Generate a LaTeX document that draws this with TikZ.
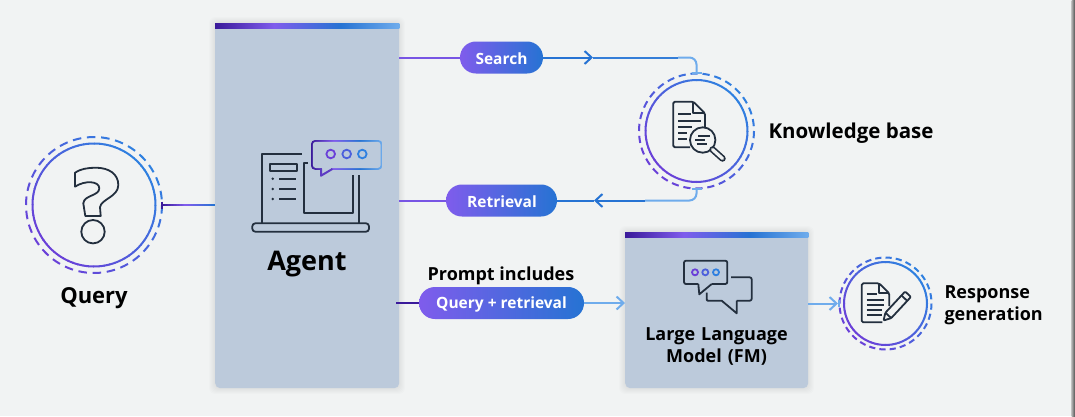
\documentclass[tikz,border=0pt]{standalone}
\usepackage{fontspec}
\setmainfont{Open Sans}
\usetikzlibrary{arrows.meta,calc,positioning}

\definecolor{bgGrey}{HTML}{F1F3F3}
\definecolor{panelBlue}{HTML}{BCCADB}
\definecolor{inkDark}{HTML}{232F3E}
\definecolor{deepPurple}{HTML}{3A1A9A}
\definecolor{midPurple}{HTML}{7F5CEC}
\definecolor{ringPurple}{HTML}{6A40D8}
\definecolor{ringBlue}{HTML}{2F80E0}
\definecolor{midBlue}{HTML}{2673D3}
\definecolor{paleBlue}{HTML}{6FACEC}

\pgfdeclarehorizontalshading{topbar}{100bp}{color(0bp)=(deepPurple); color(25bp)=(deepPurple); color(41bp)=(midPurple); color(59bp)=(midBlue); color(75bp)=(paleBlue); color(100bp)=(paleBlue)}

\tikzset{
	panel/.style={rectangle,fill=panelBlue,rounded corners=5,anchor=north west,inner sep=0},
	pill/.style={rectangle,rounded corners=15.9,left color=midPurple,right color=midBlue,text=white,minimum height=32,inner sep=0},
	ringspot/.style={circle,inner sep=0},
	toplabel/.style={font=\bfseries\fontsize{#1}{#1}\selectfont,text=black,align=center},
	icon/.style={draw=inkDark,line width=1.8,line join=round,fill=none},
	wire/.style={line width=2},
	ringline/.style={line width=2}
}

% connector whose colour runs from one end to the other
\newcommand{\fadeline}[4]{%
	\foreach \i in {0,...,15}{
		\pgfmathsetmacro{\ta}{\i/16}
		\pgfmathsetmacro{\tb}{(\i+1.1)/16}
		\pgfmathsetmacro{\mixv}{100*\i/15}
		\draw[wire,draw=#4!\mixv!#3] ($(#1)!\ta!(#2)$) -- ($(#1)!\tb!(#2)$);
	}
}

% solid ring with a dashed ring round it, node name / radius / radius / dashes
\newcommand{\gradring}[4]{%
	\foreach \a in {0,5,...,355}{
		\pgfmathsetmacro{\mixv}{50+50*cos(\a+45)}
		\draw[ringline,draw=ringBlue!\mixv!ringPurple] ([shift={(\a:#2)}]#1.center) arc[start angle=\a,end angle=\a+5.6,radius=#2];
	}
	\pgfmathsetmacro{\ringgap}{360/#4}
	\foreach \n in {1,...,#4}{
		\pgfmathsetmacro{\a}{\n*\ringgap}
		\pgfmathsetmacro{\e}{\a+0.6*\ringgap}
		\pgfmathsetmacro{\mixv}{50+50*cos(\a+45)}
		\draw[ringline,draw=ringBlue!\mixv!ringPurple] ([shift={(\a:#3)}]#1.center) arc[start angle=\a,end angle=\e,radius=#3];
	}
}

\begin{document}
\begin{tikzpicture}[x=1pt,y=-1pt,>={Straight Barb[length=7pt,width=13pt,line width=2pt]}]
	\useasboundingbox (0,0) rectangle (1075,416);
	\fill[bgGrey] (0,0) rectangle (1075,416);
	\shade[left color=gray!60,right color=black!70] (1071.5,0) rectangle (1075,416);

	% soft edge under the two panels
	\foreach \s in {1,2,...,6}{
		\fill[black,opacity=0.012,rounded corners=6] (215-\s,23-\s) rectangle (399+\s,388+\s);
		\fill[black,opacity=0.012,rounded corners=6] (625-\s,232-\s) rectangle (808+\s,388+\s);
	}

	\node[panel,minimum width=184,minimum height=365] (agent) at (215,23) {};
	\node[panel,minimum width=183,minimum height=156] (llm)   at (625,232) {};
	\shade[shading=topbar] (agent.north west) rectangle ($(agent.north east)+(0,5)$);
	\shade[shading=topbar] (llm.north west) rectangle ($(llm.north east)+(0,5)$);

	\node[ringspot,minimum size=136] (query)    at (94,205)      {};
	\node[ringspot,minimum size=115] (kb)       at (696.5,131)   {};
	\node[ringspot,minimum size=92]  (response) at (885.5,303.5) {};
	\gradring{query}{61.5}{68}{30}
	\gradring{kb}{51}{57.5}{30}
	\gradring{response}{41.5}{46}{28}

	\node[pill,minimum width=83]  (search)    at (501.5,57.5)  {};
	\node[pill,minimum width=111] (retrieval) at (501.5,200.5) {};
	\node[pill,minimum width=165] (prompt)    at (501.5,303)   {};
	\node[toplabel=15.5,text=white] (searchtext) at (501.5,59)  {Search};
	\node[toplabel=15.5,text=white] (retrtext)   at (502,201.5) {Retrieval};
	\node[toplabel=15.5,text=white] (prompttext) at (501.5,304) {Query + retrieval};

	\node[toplabel=22] (querylabel)  at (94,298.5)          {Query};
	\node[toplabel=27] (agentlabel)  at (307,264)           {Agent};
	\node[toplabel=20.5,anchor=west] (kblabel) at (765,133) {Knowledge base};
	\node[toplabel=18] (promptlabel) at (501,276)           {Prompt includes};
	\node[toplabel=18,text width=170] (llmlabel) at (716.5,346) {Large Language\\[4pt]Model (FM)};
	\node[toplabel=18,align=left,anchor=west] (resplabel) at (941,305) {Response\\[4pt]generation};

	% connectors
	\coordinate (querytap)  at (agent.west |- query);
	\coordinate (querymid)  at ($(query.east)!0.45!(querytap)$);
	\coordinate (searchtap) at (agent.east |- search);
	\coordinate (retrtap)   at (agent.east |- retrieval);
	\coordinate (prompttap) at (agent.east |- prompt);
	\coordinate (searchtip) at (593,57.5);
	\coordinate (searchrun) at (678,57.5);
	\coordinate (retrtip)   at (594,200.5);
	\coordinate (retrrun)   at (645,200.5);
	\coordinate (retrcorner) at (kb.south |- retrieval);
	\coordinate (searchcorner) at (kb.north |- search);

	\fadeline{query.east}{querymid}{deepPurple}{midPurple}
	\fadeline{querymid}{querytap}{midPurple}{midBlue}
	\draw[wire,draw=deepPurple] ($(query.east)+(0,-3.5)$) -- ($(query.east)+(0,3.5)$);
	\draw[wire,draw=midPurple!90!deepPurple] (searchtap) -- (search);
	\draw[wire,draw=midPurple!90!deepPurple] (retrtap) -- (retrieval);
	\draw[wire,draw=deepPurple] ($(prompttap)+(-3,0)$) -- (prompt);

	\draw[wire,midBlue,->] (search) -- (searchtip);
	\draw[wire,midBlue!80!paleBlue] (searchtip) -- (searchrun);
	\draw[wire,paleBlue,rounded corners=7] (searchrun) -- (searchcorner) -- (kb.north);
	\draw[wire,paleBlue] ($(kb.north)+(-5,0)$) -- ($(kb.north)+(5,0)$);

	\draw[wire,paleBlue,rounded corners=7] (kb.south) -- (retrcorner) -- (retrrun);
	\draw[wire,paleBlue] ($(kb.south)+(-5,0)$) -- ($(kb.south)+(5,0)$);
	\draw[wire,midBlue,->] (retrrun) -- (retrtip);
	\draw[wire,midBlue] (retrtip) -- (retrieval);

	\draw[wire,paleBlue,->] (prompt) -- (llm.west |- prompt);
	\coordinate (resptip) at (838,303.5);
	\draw[wire,paleBlue,->] (llm.east |- resptip) -- (resptip);
	\draw[wire,paleBlue] (response.west) ++(0,-3.5) -- ++(0,7);

	% question mark
	\draw[icon] (75,172.7) .. controls (80,169) and (88,167.7) .. (95.7,167.7)
		.. controls (109,167.7) and (118.3,174) .. (118.3,185)
		.. controls (118.3,197) and (101,199) .. (100,207.3)
		-- (100.7,216) -- (85.3,216) -- (83.3,203.3)
		.. controls (84,195) and (99.3,196) .. (99.3,188.3)
		.. controls (99.3,181) and (85,180) .. (75,186.7) -- cycle;
	\draw[icon] (93,231.7) circle[radius=11.7];

	% laptop with speech bubble
	\draw[icon] (262.3,223.3) -- (262.3,154) -- (301.7,154);
	\draw[icon] (307.7,163.3) -- (303.7,163.3) -- (303.7,213.3) -- (353.3,213.3) -- (353.3,175);
	\draw[icon] (359,175) -- (359,223.3);
	\draw[icon,rounded corners=3] (252.3,223.3) -- (369,223.3) -- (369,231.7) -- (252.3,231.7) -- cycle;
	\draw[icon] (269.7,164) rectangle (297,170.7);
	\foreach \y in {178.7,189,199}{
		\fill[inkDark] (272.7,\y) circle[radius=1.4];
		\draw[icon] (279.3,\y) -- (295.7,\y);
	}
	\shade[shading=topbar,rounded corners=4] (311,140) rectangle (382.4,169.8);
	\fill[panelBlue,rounded corners=3] (312.8,141.8) rectangle (380.6,168);
	\fill[panelBlue] (321.8,167.5) rectangle (331,170);
	\draw[wire,draw=deepPurple!50!midPurple,line join=round] (321,168.6) -- (321,175.7) -- (332.3,169);
	\foreach \x/\c in {330.7/ringPurple,346.7/ringPurple!50!ringBlue,362.3/ringBlue}{
		\draw[line width=1.8,draw=\c] (\x,154) circle[radius=4.3];
	}

	% document under a magnifier
	\draw[icon,rounded corners=1.5] (705,128.3) -- (705,113.3) -- (693.3,101.7) -- (673.3,101.7) -- (673.3,147.3) -- (690,147.3);
	\draw[icon] (693.3,101.7) -- (693.3,113.3) -- (705,113.3);
	\foreach \y/\e in {114.3/690.7,121/700.7,127/691.7,133.3/686.7,139.3/686.7}{
		\draw[icon] (678.3,\y) -- (\e,\y);
	}
	\fill[bgGrey] (702.7,140) circle[radius=12.7];
	\draw[icon] (702.7,140) circle[radius=12.7];
	\draw[icon] (698.3,136) -- (710,136) (695,140) -- (705,140) (696.7,144) -- (707.3,144);
	\draw[inkDark,line width=6.5,line cap=round] (712.5,149.5) -- (722.5,158.5);
	\draw[bgGrey,line width=3.2,line cap=round] (712.5,149.5) -- (722.5,158.5);

	% document with pen
	\draw[icon,rounded corners=1.5] (889.3,306) -- (889.3,293.3) -- (879,283.3) -- (861.7,283.3) -- (861.7,322.3) -- (882.3,322.3);
	\draw[icon] (879,283.3) -- (879,293.3) -- (889.3,293.3);
	\foreach \y/\e in {294.3/876.7,300/884.3,305/884.3,310/882.3,315/882.3}{
		\draw[icon] (866.7,\y) -- (\e,\y);
	}
	\draw[icon,rounded corners=1] (883.5,320.5) -- (885.4,312.7) -- (905.1,291.5) -- (910.9,296.9) -- (891.2,318.1) -- cycle;
	\draw[icon] (885.4,312.7) -- (891.2,318.1);
	\draw[icon] (901.5,295.5) -- (907.3,300.9);

	% two speech bubbles
	\draw[icon,rounded corners=2] (698.3,284) -- (684,284) -- (684,260.7) -- (727.3,260.7) -- (727.3,284) -- (711.7,284);
	\draw[icon] (698.3,284) -- (699.3,294.3) -- (711.7,284);
	\draw[icon,rounded corners=2] (731,277.3) -- (751.7,277.3) -- (751.7,300.7) -- (736.7,300.7);
	\draw[icon] (736.7,300.7) -- (736.7,313.3) -- (721.7,300.7) -- (708,300.7);
	\draw[icon,rounded corners=1] (708,300.7) -- (706.7,300.7) -- (706.7,292.7);
	\foreach \x/\c in {695/ringPurple,705.3/ringPurple!50!ringBlue,716/ringBlue}{
		\draw[line width=1.8,draw=\c] (\x,272.3) circle[radius=3];
	}
\end{tikzpicture}
\end{document}
